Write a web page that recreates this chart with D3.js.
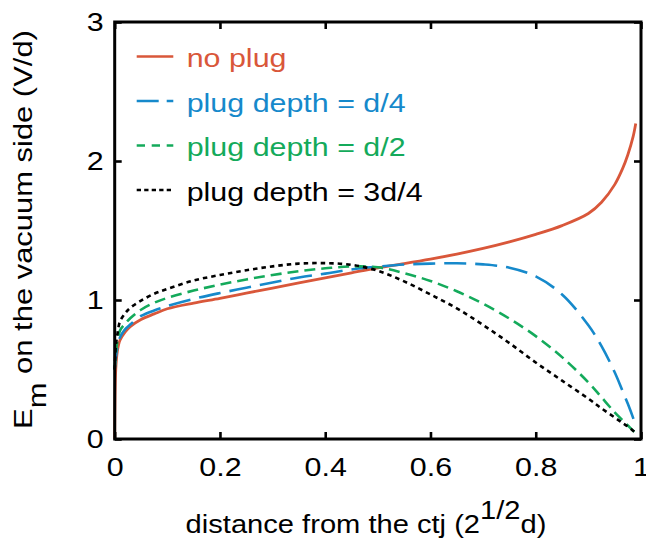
<!DOCTYPE html>
<html>
<head>
<meta charset="utf-8">
<script src="https://cdn.jsdelivr.net/npm/d3@7"></script>
<style>
  html, body { margin: 0; padding: 0; background: #fff; }
  svg text { font-family: "Liberation Sans", Arial, Helvetica, sans-serif; }
</style>
</head>
<body>
<svg id="chart" width="646" height="548"></svg>
<script>
// Distance from the conductor–triple-junction, in units of 2^(1/2) d
const distance = [0, 0.002, 0.005, 0.01, 0.02, 0.03, 0.05, 0.075, 0.1, 0.15, 0.2, 0.25, 0.3, 0.35, 0.4, 0.45,
                  0.5, 0.55, 0.6, 0.65, 0.7, 0.75, 0.8, 0.85, 0.9, 0.925, 0.95, 0.965, 0.975, 0.985, 0.99];

// Normal field E_m on the vacuum side (V/d)
const noPlug = [0, 0.50, 0.63, 0.71, 0.77, 0.81, 0.86, 0.90, 0.937, 0.978, 1.012, 1.049, 1.086, 1.123, 1.159, 1.196,
                1.232, 1.262, 1.294, 1.330, 1.371, 1.418, 1.472, 1.535, 1.622, 1.703, 1.83, 1.945, 2.045, 2.175, 2.27];
const plugQuarter = [0.5, 0.58, 0.66, 0.73, 0.79, 0.825, 0.885, 0.925, 0.957, 1.008, 1.05, 1.088, 1.126, 1.162, 1.19, 1.22,
                     1.24, 1.255, 1.262, 1.264, 1.256, 1.232, 1.17, 1.04, 0.818, 0.668, 0.48, 0.345, 0.253, 0.152, 0.095];
const plugHalf = [0.5, 0.62, 0.70, 0.78, 0.83, 0.87, 0.93, 0.98, 1.015, 1.068, 1.11, 1.148, 1.18, 1.207, 1.228, 1.241,
                  1.235, 1.193, 1.137, 1.063, 0.973, 0.866, 0.74, 0.589, 0.407, 0.30, 0.192, 0.135, 0.097, 0.06, 0.045];
const plugThreeQuarter = [0.5, 0.66, 0.75, 0.845, 0.905, 0.945, 0.995, 1.045, 1.08, 1.14, 1.18, 1.214, 1.242, 1.262, 1.265, 1.253,
                          1.21, 1.134, 1.04, 0.94, 0.82, 0.69, 0.55, 0.42, 0.29, 0.22, 0.155, 0.115, 0.09, 0.06, 0.045];

const seriesNames = ["no plug", "plug depth = d/4", "plug depth = d/2", "plug depth = 3d/4"];
const seriesValues = [noPlug, plugQuarter, plugHalf, plugThreeQuarter];
const seriesColors = ["#d9573a", "#1689cb", "#14aa5b", "#000000"];
const seriesDash = [null, "22,9", "11,6", "4.5,4"];
const legendDash = [null, "22,8", "8.3,6.7", "4.3,3.2"];

const xTicks = [0, 0.2, 0.4, 0.6, 0.8, 1];
const yTicks = [0, 1, 2, 3];
const xTitle = ["distance from the ctj (2", "1/2", "d)"];
const yTitle = ["E", "m", " on the vacuum side (V/d)"];

// Layout
const svg = d3.select("#chart");
const plotLeft = 114.7, plotRight = 641, plotTop = 22, plotBottom = 439;
const fontSize = 26, stretch = 1.17;

const x = d3.scaleLinear().domain([0, 1]).range([plotLeft, plotRight]);
const y = d3.scaleLinear().domain([0, 3]).range([plotBottom, plotTop]);

function styleAxis(g, showLabels) {
  g.select(".domain").remove();
  g.selectAll(".tick line").attr("stroke", "#000").attr("stroke-width", 2.6);
  g.selectAll(".tick text")
    .attr("font-size", fontSize)
    .attr("font-family", '"Liberation Sans", Arial, sans-serif')
    .attr("fill", "#000")
    .attr("transform", `scale(${stretch},1)`);
  if (!showLabels) g.selectAll(".tick text").remove();
}

const fmt = d3.format("~g");
svg.append("g").attr("transform", `translate(0,${plotBottom})`)
  .call(d3.axisBottom(x).tickValues(xTicks).tickFormat(fmt).tickSizeInner(-7).tickSizeOuter(0).tickPadding(19))
  .call(g => styleAxis(g, true));
svg.append("g").attr("transform", `translate(0,${plotTop})`)
  .call(d3.axisTop(x).tickValues(xTicks).tickSizeInner(-7).tickSizeOuter(0))
  .call(g => styleAxis(g, false));
svg.append("g").attr("transform", `translate(${plotLeft},0)`)
  .call(d3.axisLeft(y).tickValues(yTicks).tickFormat(fmt).tickSizeInner(-7).tickSizeOuter(0).tickPadding(9.5))
  .call(g => styleAxis(g, true));
svg.append("g").attr("transform", `translate(${plotRight},0)`)
  .call(d3.axisRight(y).tickValues(yTicks).tickSizeInner(-7).tickSizeOuter(0))
  .call(g => styleAxis(g, false));

// Curves (centripetal Catmull–Rom keeps the steep ends smooth without loops)
const line = d3.line()
  .x(d => x(d[0]))
  .y(d => y(d[1]))
  .curve(d3.curveCatmullRom.alpha(0.5));

seriesValues.forEach((vals, i) => {
  const pts = distance.map((d, j) => [d, vals[j]]);
  svg.append("path")
    .datum(pts)
    .attr("d", line)
    .attr("fill", "none")
    .attr("stroke", seriesColors[i])
    .attr("stroke-width", i === 0 ? 2.8 : 2.6)
    .attr("stroke-dasharray", seriesDash[i]);
});

// Frame
svg.append("rect")
  .attr("x", plotLeft).attr("y", plotTop)
  .attr("width", plotRight - plotLeft).attr("height", plotBottom - plotTop)
  .attr("fill", "none").attr("stroke", "#000").attr("stroke-width", 3);

// Legend
seriesNames.forEach((name, i) => {
  const base = 67 + 44.5 * i;
  svg.append("line")
    .attr("x1", 136.7).attr("x2", 173.3)
    .attr("y1", base - 10.5).attr("y2", base - 10.5)
    .attr("stroke", seriesColors[i])
    .attr("stroke-width", 2.6)
    .attr("stroke-dasharray", legendDash[i]);
  svg.append("text")
    .attr("transform", `translate(186.7,${base}) scale(${stretch},1)`)
    .attr("font-size", fontSize)
    .attr("fill", seriesColors[i])
    .text(name);
});

// Axis titles
const xt = svg.append("text")
  .attr("transform", `translate(366,533) scale(1.12,1)`)
  .attr("text-anchor", "middle")
  .attr("font-size", fontSize)
  .attr("fill", "#000");
xt.append("tspan").text(xTitle[0]);
xt.append("tspan").attr("dy", -14).text(xTitle[1]);
xt.append("tspan").attr("dy", 14).text(xTitle[2]);

const yt = svg.append("text")
  .attr("transform", `translate(32,229.5) rotate(-90) scale(1.19,1)`)
  .attr("text-anchor", "middle")
  .attr("font-size", fontSize)
  .attr("fill", "#000");
yt.append("tspan").text(yTitle[0]);
yt.append("tspan").attr("dy", 14).text(yTitle[1]);
yt.append("tspan").attr("dy", -14).text(yTitle[2]);
</script>
</body>
</html>
